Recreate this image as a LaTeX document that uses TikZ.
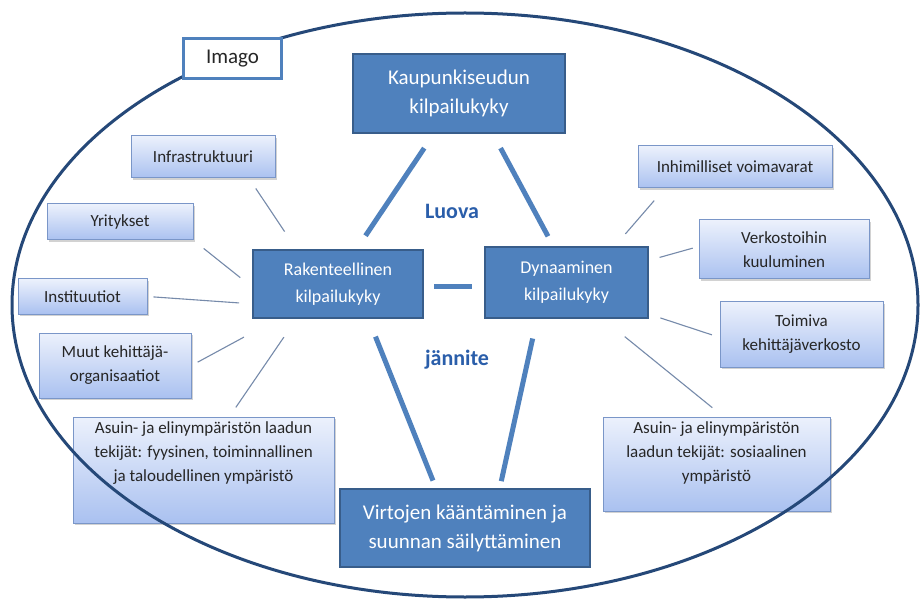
\documentclass[tikz,border=0pt]{standalone}
\usepackage{fontspec}
\setmainfont{Carlito}
\usetikzlibrary{shadows}

\definecolor{boxblue}{RGB}{79,129,189}
\definecolor{boxedge}{RGB}{56,93,138}
\definecolor{rimblue}{RGB}{37,72,120}
\definecolor{lighttop}{RGB}{236,241,252}
\definecolor{lightbot}{RGB}{170,193,240}
\definecolor{lightedge}{RGB}{122,150,200}
\definecolor{spokegray}{RGB}{118,138,170}
\definecolor{labelblue}{RGB}{42,94,170}
\definecolor{textgray}{RGB}{38,38,38}

\tikzset{
	bigbox/.style={draw=boxedge, line width=2pt, fill=boxblue, text=white, align=center, inner sep=2pt, font=\fontsize{21}{29}\selectfont},
	midbox/.style={bigbox, font=\fontsize{18}{27}\selectfont},
	lightbox/.style={draw=lightedge, line width=1pt, top color=lighttop, bottom color=lightbot, text=textgray, align=center, inner sep=2pt,
		drop shadow={shadow xshift=2pt, shadow yshift=-2pt, opacity=0.35}, font=\fontsize{17}{24}\selectfont},
	link/.style={draw=boxblue, line width=5pt},
	spoke/.style={draw=spokegray, line width=1.1pt},
	tensionlabel/.style={text=labelblue, font=\fontsize{22}{26}\selectfont\bfseries}
}

\begin{document}
\begin{tikzpicture}[x=1pt, y=-1pt]
		\fill[white] (0,0) rectangle (920,601);
		\useasboundingbox (0,0) rectangle (920,601);

		% keskeiset laatikot
		\node[bigbox, minimum width=212pt, minimum height=79pt] (kaup) at (459,93.5) {Kaupunkiseudun\\kilpailukyky};
		\node[midbox, minimum width=170pt, minimum height=68pt] (rak) at (338,284) {Rakenteellinen\\kilpailukyky};
		\node[midbox, minimum width=163pt, minimum height=71pt] (dyn) at (566.5,282.5) {Dynaaminen\\kilpailukyky};
		\node[bigbox, minimum width=250pt, minimum height=78pt] (virt) at (465,528) {Virtojen kääntäminen ja\\suunnan säilyttäminen};

		\node[tensionlabel] (luova) at (452,211) {Luova};
		\node[tensionlabel] (jannite) at (457,360) {jännite};

		% vasemman puolen tekijät
		\node[lightbox, minimum width=144pt, minimum height=42pt] (infra) at (203,157) {Infrastruktuuri};
		\node[lightbox, minimum width=146pt, minimum height=36pt] (yrit) at (120,222) {Yritykset};
		\node[lightbox, minimum width=129pt, minimum height=35pt] (inst) at (82.5,296.5) {Instituutiot};
		\node[lightbox, minimum width=152pt, minimum height=65pt] (muut) at (115,365.5) {Muut kehittäjä-\\organisaatiot};
		\node[lightbox, minimum width=261pt, minimum height=106pt] (asuinL) at (203.5,470)
			{\parbox[c][96pt][t]{252pt}{\centering Asuin- ja elinympäristön laadun\\tekijät: fyysinen, toiminnallinen\\ja taloudellinen ympäristö}};

		% oikean puolen tekijät
		\node[lightbox, minimum width=194pt, minimum height=42pt] (inhim) at (735,167) {Inhimilliset voimavarat};
		\node[lightbox, minimum width=170pt, minimum height=59pt] (verk) at (784,249.5) {Verkostoihin\\kuuluminen};
		\node[lightbox, minimum width=163pt, minimum height=65pt] (toim) at (801.5,334.5) {Toimiva\\kehittäjäverkosto};
		\node[lightbox, minimum width=227pt, minimum height=94pt] (asuinR) at (716.5,464)
			{\parbox[c][84pt][t]{218pt}{\centering Asuin- ja elinympäristön\\laadun tekijät: sosiaalinen\\ympäristö}};

		% paksut yhteydet
		\draw[link, shorten <=17pt, shorten >=16pt] (kaup.-122) -- (rak.62);
		\draw[link, shorten <=16pt, shorten >=11pt] (kaup.-50) -- (dyn.110);
		\draw[link, shorten <=19pt, shorten >=8pt] (rak.-49) -- (virt.126);
		\draw[link, shorten <=20pt, shorten >=7pt] (dyn.-129) -- (virt.49);
		\draw[link, shorten <=10pt, shorten >=12pt] ([yshift=-3pt]rak.east) -- ([yshift=-3pt]rak.east -| dyn.west);

		% ohuet viivat
		\draw[spoke, shorten <=12pt, shorten >=21pt] (infra.-25) -- (rak.140);
		\draw[spoke, shorten <=13pt, shorten >=15pt] (yrit.-14) -- (rak.182);
		\draw[spoke, shorten <=6pt, shorten >=13pt] (inst.east) -- (rak.193);
		\draw[spoke, shorten <=7pt, shorten >=38pt] (muut.east) -- (rak.-150);
		\draw[spoke, shorten <=11pt, shorten >=22pt] (asuinL.64) -- (rak.-140);
		\draw[spoke, shorten <=16pt, shorten >=16pt] (inhim.-163) -- (dyn.37);
		\draw[spoke, shorten <=6pt, shorten >=11pt] (verk.178) -- (dyn.15);
		\draw[spoke, shorten <=8pt, shorten >=12pt] (toim.182) -- (dyn.-21);
		\draw[spoke, shorten <=14pt, shorten >=28pt] (asuinR.82) -- (dyn.-45);

		% imago-kehä
		\draw[rimblue, line width=3pt] (465,305) ellipse [x radius=453pt, y radius=292pt];
		\node[draw=boxblue, line width=3pt, fill=white, text=textgray, minimum width=98pt, minimum height=40pt, font=\fontsize{21}{25}\selectfont] (imago) at (232.5,58.5) {Imago};
	\end{tikzpicture}
\end{document}
